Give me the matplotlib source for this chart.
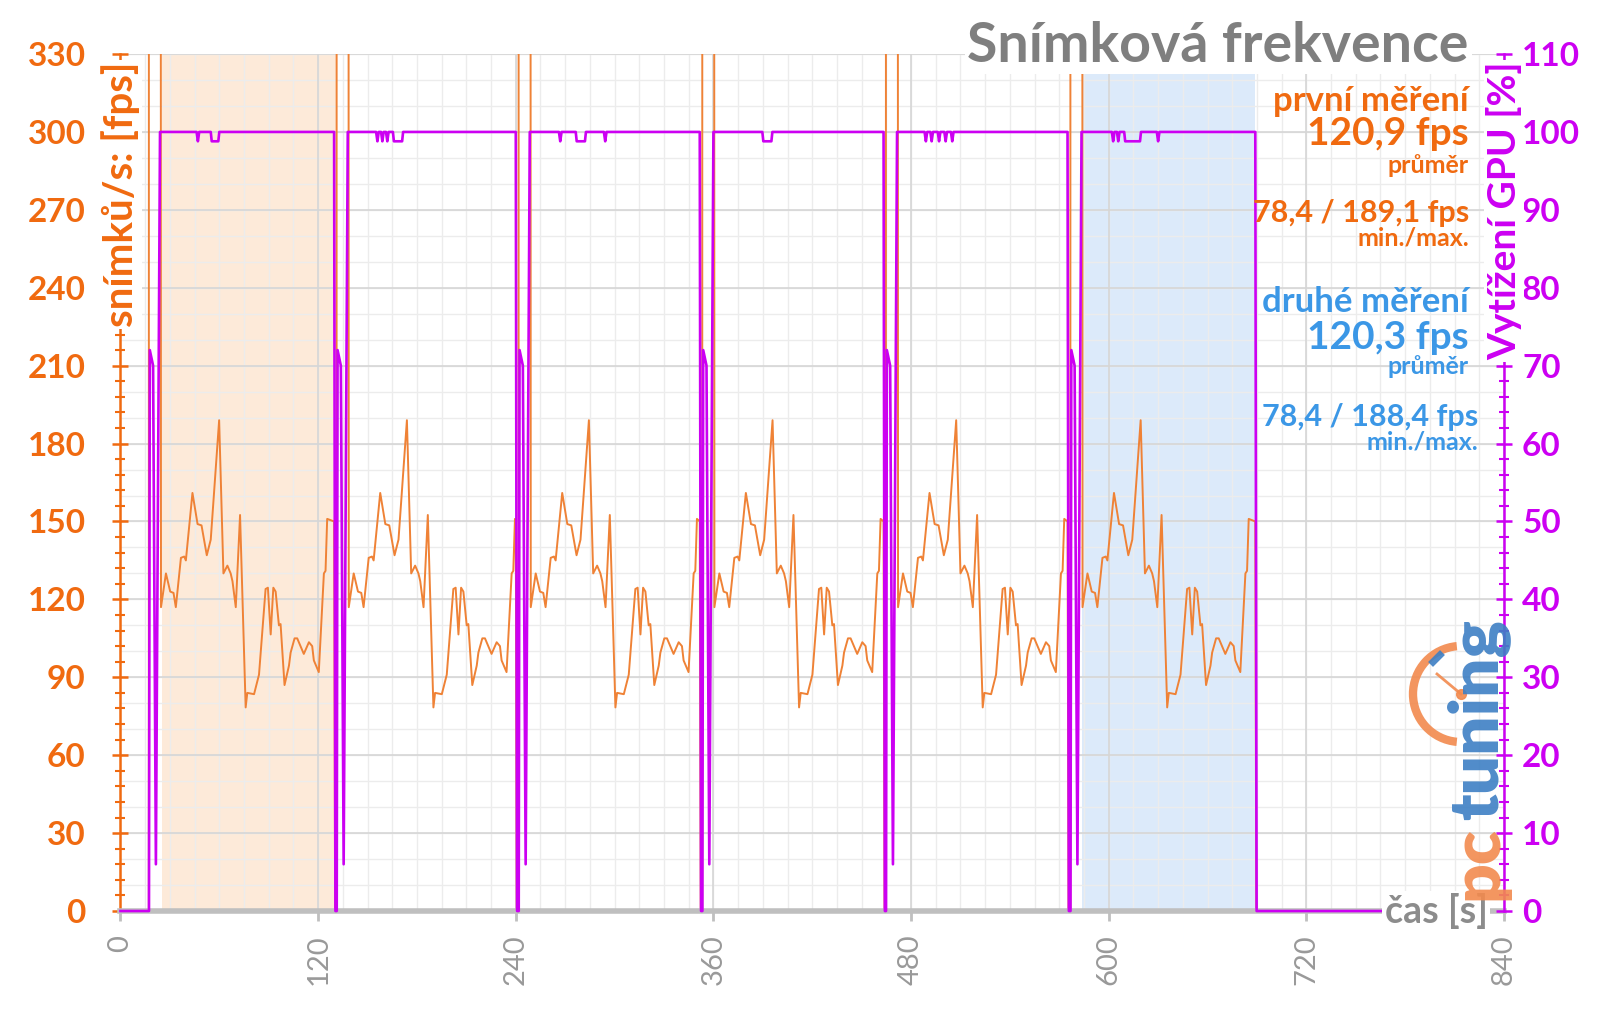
import numpy as np
import matplotlib.pyplot as plt
from matplotlib.patches import Arc

plt.rcParams['font.family'] = ['Lato', 'DejaVu Sans']

# run start (first fps spike) and end (GPU drop) times [s]
run_start = [17.5, 131.5, 242.0, 353.5, 465.0, 577.0]
run_end = [129.7, 240.0, 351.7, 463.3, 575.0, 689.0]
t_last = 766

# fps profile of one run, time relative to the run start
run_fps_t = [0, 6.0, 7.1, 10.1, 12.7, 14.7, 16.1, 19.2, 21.2, 22.2, 26.2, 29.3,
             31.7, 34.9, 37.3, 42.4, 45.0, 47.4, 49.4, 50.5, 52.5, 55.1, 58.5, 59.5, 63.6,
             66.6, 70.6, 72.0, 73.7, 75.3, 76.7, 78.7, 79.7, 82.1, 84.8, 85.8, 88.2, 89.8,
             93.8, 96.9, 98.9, 99.9, 102.9, 106.0, 107.0, 108.0]
run_fps_v = [2500, 2500, 117, 130, 123, 122.5, 117, 136, 136.5, 135, 161, 149,
             148.5, 137, 143, 189, 130, 133, 130, 127, 117, 152.5, 78.4, 84, 83.5,
             91, 124, 124.5, 106.5, 124.5, 123, 110, 110.5, 87, 94.5, 99.5, 105, 105,
             99, 103.5, 102, 96.5, 92, 130, 131, 151]

# GPU load at the start of every run (relative time, %)
gpu_start_t = [-0.2, 0.3, 2.3, 4.0, 6.5]
gpu_start_v = [0, 72, 70, 6, 100]
# short drops of the GPU load in each run: (from, to) in s
gpu_dips = [
    [(47.0, 47.0), (55.4, 59.4)],
    [(156.0, 156.0), (159.0, 159.0), (162.0, 162.0), (166.0, 171.0)],
    [(267.0, 267.0), (277.0, 282.0), (294.3, 294.3)],
    [(390.3, 395.2)],
    [(489.0, 489.0), (492.5, 492.5), (497.0, 497.0), (501.0, 501.0), (505.0, 505.0)],
    [(602.7, 602.7), (605.8, 605.8), (610.0, 619.0), (630.0, 630.0)],
]
dip_value = 98.8

first_span = (25, 131.5)
second_span = (583.5, 689)

fps_t, fps_v = [0.0], [0.0]
gpu_t, gpu_v = [0.0], [0.0]
for i, t0 in enumerate(run_start):
    fps_t.append(t0 - 0.3)
    fps_v.append(0)
    fps_t += [t0 + r for r in run_fps_t]
    fps_v += run_fps_v
    fps_t += [run_end[i], run_end[i] + 0.6]
    fps_v += [150, 0]

    gpu_t += [t0 + r for r in gpu_start_t]
    gpu_v += gpu_start_v
    for a, b in gpu_dips[i]:
        if a == b:
            gpu_t += [a - 0.8, a, a + 0.8]
            gpu_v += [100, dip_value, 100]
        else:
            gpu_t += [a - 0.6, a, b, b + 0.6]
            gpu_v += [100, dip_value, dip_value, 100]
    gpu_t += [run_end[i], run_end[i] + 0.8]
    gpu_v += [100, 0]
fps_t.append(t_last)
fps_v.append(0)
gpu_t.append(t_last)
gpu_v.append(0)

ORANGE = '#f06a10'
LINE_OR = '#ef8236'
PURPLE = '#cc00f2'
BLUE = '#3b97e6'
GRAY = '#7f7f7f'

fig = plt.figure(figsize=(16, 10.1), dpi=100)
ax = fig.add_axes([0.0753, 0.098, 0.8647, 0.8485])
ax2 = ax.twinx()

ax.axvspan(*first_span, color='#fdead9', lw=0, zorder=0.2)
ax.axvspan(*second_span, color='#dceafa', lw=0, zorder=0.2)

ax.set_axisbelow(True)
ax.hlines(np.arange(0, 331, 10), 0, 840, color='#ececec', lw=1, zorder=0.4)
ax.vlines(np.arange(0, 841, 15), 0, 330, color='#ececec', lw=1, zorder=0.4)
ax.grid(which='major', color='#d6d6d6', lw=1.2)

ax.plot(fps_t, fps_v, color=LINE_OR, lw=1.4, zorder=2)
ax2.plot(gpu_t, gpu_v, color=PURPLE, lw=1.9, clip_on=False, zorder=3)

ax.set_xlim(0, 840)
ax.set_ylim(0, 330)
ax2.set_ylim(0, 110)

ax.set_xticks(np.arange(0, 841, 120))
ax.set_yticks(np.arange(0, 331, 30))
ax.set_yticks(np.arange(0, 331, 6), minor=True)
ax2.set_yticks(np.arange(0, 111, 10))
ax2.set_yticks(np.arange(0, 111, 2), minor=True)

for a in (ax, ax2):
    a.spines['top'].set_visible(False)
ax.spines['right'].set_visible(False)
ax2.spines['left'].set_visible(False)
ax2.spines['bottom'].set_visible(False)
ax.spines['left'].set_color(ORANGE)
ax.spines['left'].set_linewidth(1.8)
ax2.spines['right'].set_color(PURPLE)
ax2.spines['right'].set_linewidth(1.8)
ax.spines['bottom'].set_color('#bfbfbf')
ax.spines['bottom'].set_linewidth(4)

ax.tick_params(axis='y', which='major', direction='inout', length=12, width=1.8,
               color=ORANGE, labelcolor=ORANGE, labelsize=24, pad=19)
ax.tick_params(axis='y', which='minor', direction='inout', length=7, width=1.5, color=ORANGE)
ax2.tick_params(axis='y', which='major', direction='inout', length=12, width=1.8,
                color=PURPLE, labelcolor=PURPLE, labelsize=24, pad=7)
ax2.tick_params(axis='y', which='minor', direction='inout', length=7, width=1.5, color=PURPLE)
ax.tick_params(axis='x', direction='out', length=7, width=2, color='#bfbfbf',
               labelcolor='#999999', labelsize=21, labelrotation=90, pad=10)
for lab in ax.get_yticklabels() + ax2.get_yticklabels():
    lab.set_fontweight('bold')

white = dict(facecolor='white', edgecolor='none', pad=1.5)
ax.text(0, 327, 'snímků/s: [fps]', rotation=90, ha='center', va='top', fontsize=29,
        fontweight='bold', color=ORANGE, bbox=white, zorder=5)
ax2.text(840, 109, 'Vytížení GPU [%]', rotation=90, ha='center', va='top', fontsize=28,
         fontweight='bold', color=PURPLE, bbox=white, zorder=5)
ax2.text(830, 0, 'čas [s]', ha='right', va='center', fontsize=27, fontweight='bold',
         color='#8c8c8c', bbox=white, zorder=5)

fig.text(0.918, 0.954, 'Snímková frekvence', ha='right', va='center', fontsize=40,
         fontweight='bold', color=GRAY, bbox=dict(facecolor='white', edgecolor='none', pad=2),
         zorder=6)
stats = [
    (0.918, 0.900, 'první měření', 25, ORANGE),
    (0.918, 0.868, '120,9 fps', 28, ORANGE),
    (0.918, 0.836, 'průměr', 18, ORANGE),
    (0.918, 0.789, '78,4 / 189,1 fps', 22, ORANGE),
    (0.918, 0.764, 'min./max.', 18, ORANGE),
    (0.918, 0.701, 'druhé měření', 25, BLUE),
    (0.918, 0.666, '120,3 fps', 28, BLUE),
    (0.918, 0.637, 'průměr', 18, BLUE),
    (0.924, 0.587, '78,4 / 188,4 fps', 22, BLUE),
    (0.924, 0.562, 'min./max.', 18, BLUE),
]
for x, y, s, size, c in stats:
    fig.text(x, y, s, ha='right', va='center', fontsize=size, fontweight='bold', color=c,
             zorder=6)

# pctuning watermark
logo = fig.add_axes([0, 0, 1, 1], zorder=10)
logo.set_xlim(0, 1600)
logo.set_ylim(1010, 0)
logo.axis('off')
logo.patch.set_alpha(0)
logo.add_patch(Arc((1461, 694), 96, 96, theta1=95, theta2=265, color='#f28a4e', lw=6,
                   alpha=0.9))
logo.plot([1437, 1461], [674, 694], color='#f28a4e', lw=2, alpha=0.9)
logo.plot([1461], [694], 'o', color='#f28a4e', ms=7, alpha=0.9)
logo.plot([1433, 1440], [662, 655], color='#3d7fc4', lw=5, alpha=0.9)
logo.text(1478, 900, 'pc', rotation=90, ha='center', va='bottom', fontsize=50,
          fontweight='heavy', color='#f28a4e', alpha=0.9)
logo.text(1478, 820, 'tuning', rotation=90, ha='center', va='bottom', fontsize=50,
          fontweight='heavy', color='#3d7fc4', alpha=0.9)

fig.savefig('out.png', dpi=100)
